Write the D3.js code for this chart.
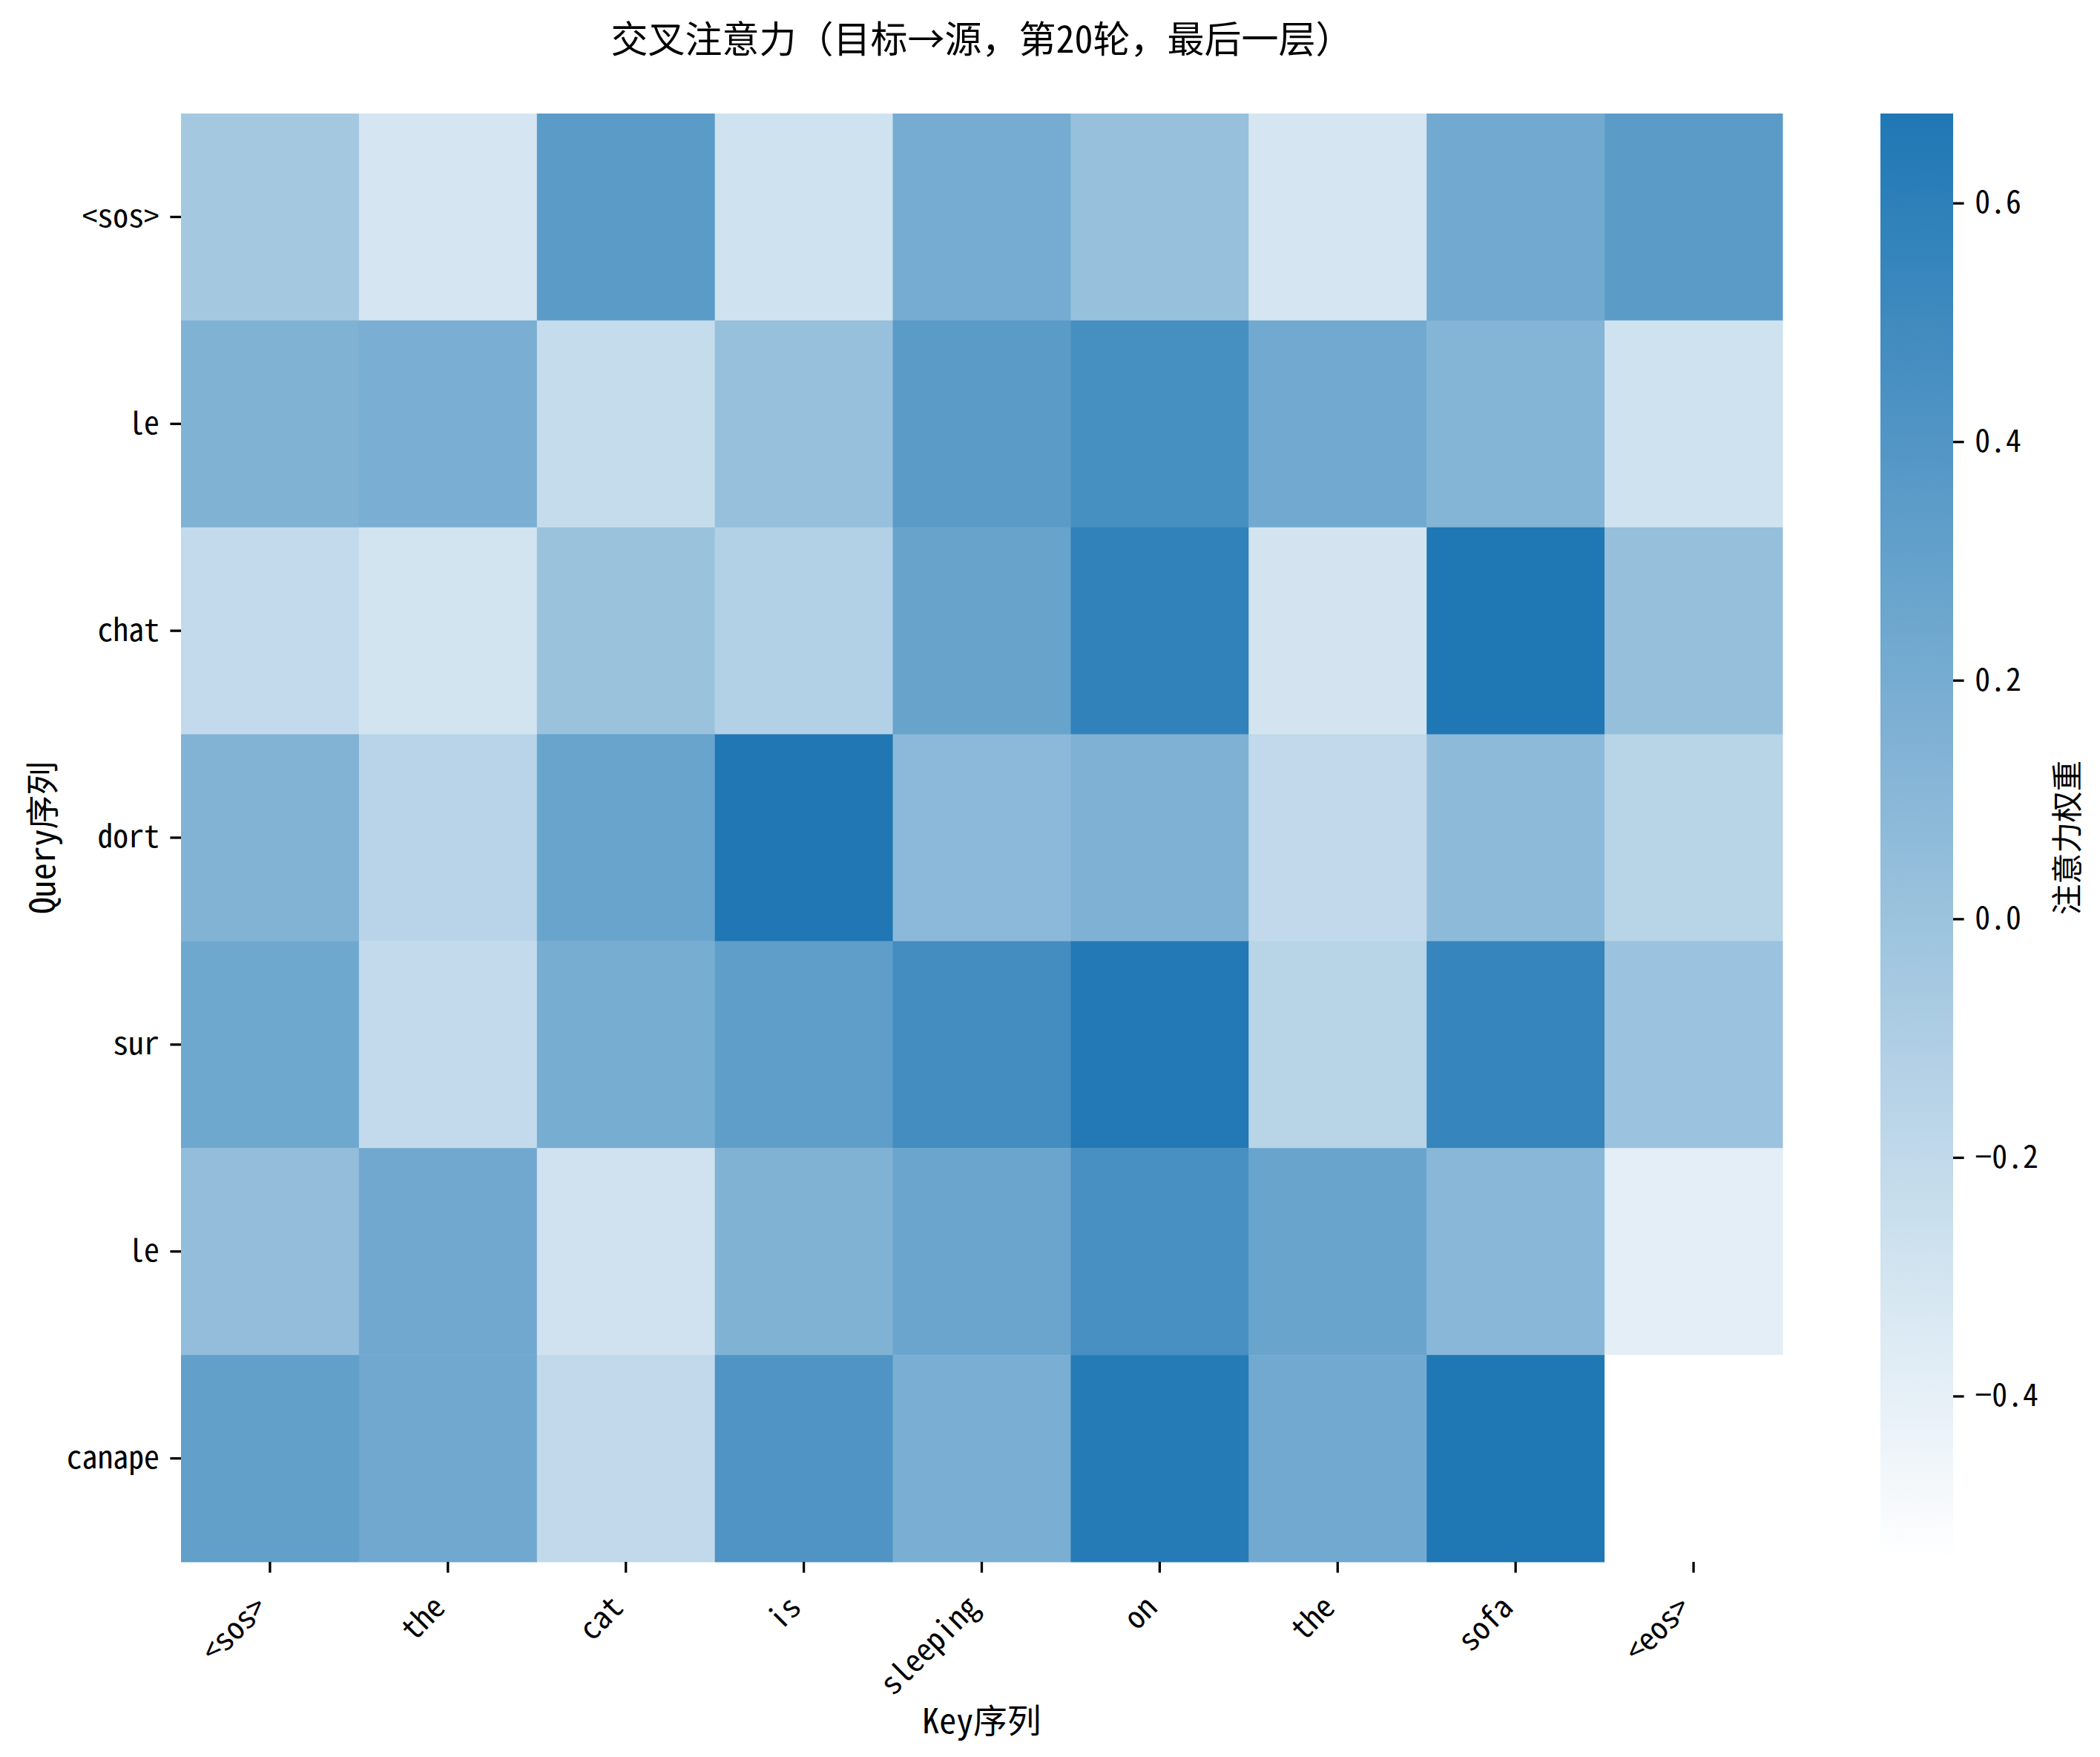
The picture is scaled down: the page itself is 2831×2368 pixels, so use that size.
<!DOCTYPE html>
<html><head><meta charset="utf-8">
<script src="https://cdn.jsdelivr.net/npm/d3@7"></script>
<style>body{margin:0;background:#fff}</style>
</head><body>
<svg id="c" width="2831" height="2368" xmlns="http://www.w3.org/2000/svg"></svg>
<script>
// ---- data ----
const queryTokens = ["<sos>", "le", "chat", "dort", "sur", "le", "canape"];
const keyTokens = ["<sos>", "the", "cat", "is", "sleeping", "on", "the", "sofa", "<eos>"];
const weights = [
  [-0.051, -0.311, 0.350, -0.279, 0.204, 0.025, -0.311, 0.225, 0.350],
  [0.150, 0.182, -0.224, 0.025, 0.350, 0.464, 0.225, 0.128, -0.279],
  [-0.208, -0.295, 0.009, -0.127, 0.280, 0.578, -0.301, 0.675, 0.036],
  [0.139, -0.159, 0.274, 0.672, 0.084, 0.155, -0.203, 0.079, -0.154],
  [0.242, -0.208, 0.193, 0.328, 0.475, 0.659, -0.154, 0.551, 0.003],
  [0.047, 0.236, -0.284, 0.150, 0.263, 0.453, 0.274, 0.106, -0.387],
  [0.312, 0.236, -0.203, 0.415, 0.182, 0.642, 0.225, 0.675, -0.539]
];
const colorTicks = [-0.4, -0.2, 0.0, 0.2, 0.4, 0.6];
const titleText = "交叉注意力（目标→源，第20轮，最后一层）";
const xLabel = "Key序列";
const yLabel = "Query序列";
const cbarLabel = "注意力权重";

// ---- layout ----
const FONT = "'Noto Sans Mono CJK SC','Noto Sans CJK SC','DejaVu Sans Mono',monospace";
const plot = {x0: 244, x1: 2403, y0: 153, y1: 2105};
const cbar = {x0: 2535, x1: 2633};
const tickLen = 14.6, tickW = 3.3, tickFs = 41.7, labelFs = 45.8, titleFs = 50;

const svg = d3.select("#c").style("font-family", FONT);
svg.append("rect").attr("width", 2831).attr("height", 2368).attr("fill", "#fff");

const flat = weights.flat();
const [vmin, vmax] = d3.extent(flat);
const color = d3.scaleSequential(d3.interpolateRgb("#ffffff", "#1f77b4")).domain([vmin, vmax]);

const x = d3.scaleBand().domain(d3.range(keyTokens.length)).range([plot.x0, plot.x1]);
const y = d3.scaleBand().domain(d3.range(queryTokens.length)).range([plot.y0, plot.y1]);

// cells
const cells = [];
weights.forEach((row, i) => row.forEach((v, j) => cells.push({i, j, v})));
svg.append("g").selectAll("rect").data(cells).join("rect")
  .attr("x", d => x(d.j)).attr("y", d => y(d.i))
  .attr("width", x.bandwidth() + 0.5).attr("height", y.bandwidth() + 0.5)
  .attr("fill", d => color(d.v));

// y axis
const gy = svg.append("g").attr("transform", `translate(${plot.x0},0)`)
  .call(d3.axisLeft(y).tickSize(tickLen).tickPadding(14.6).tickFormat(i => queryTokens[i]));
gy.select(".domain").remove();
gy.selectAll("line").attr("stroke", "#000").attr("stroke-width", tickW);
gy.selectAll("text").attr("font-size", tickFs).attr("fill", "#000").attr("font-family", FONT);

// x axis
const gx = svg.append("g").attr("transform", `translate(0,${plot.y1})`)
  .call(d3.axisBottom(x).tickSize(tickLen).tickFormat(i => keyTokens[i]));
gx.select(".domain").remove();
gx.selectAll("line").attr("stroke", "#000").attr("stroke-width", tickW);
gx.selectAll("text")
  .attr("font-size", tickFs).attr("fill", "#000").attr("font-family", FONT)
  .attr("text-anchor", "end")
  .attr("dominant-baseline", "central")
  .attr("dy", null)
  .attr("y", 0)
  .attr("transform", `translate(-14,${tickLen + 14.6 + 22}) rotate(-45)`);

// title
svg.append("text").attr("x", (plot.x0 + plot.x1) / 2).attr("y", 49)
  .attr("text-anchor", "middle").attr("dominant-baseline", "central")
  .attr("font-size", titleFs).attr("fill", "#000").text(titleText);

// axis labels
svg.append("text").attr("x", (plot.x0 + plot.x1) / 2).attr("y", 2316)
  .attr("text-anchor", "middle").attr("dominant-baseline", "central")
  .attr("font-size", labelFs).attr("fill", "#000").text(xLabel);
svg.append("text").attr("transform", `translate(54,${(plot.y0 + plot.y1) / 2}) rotate(-90)`)
  .attr("text-anchor", "middle").attr("dominant-baseline", "central")
  .attr("font-size", labelFs).attr("fill", "#000").text(yLabel);

// colorbar
const cs = d3.scaleLinear().domain([vmin, vmax]).range([plot.y1, plot.y0]);
const defs = svg.append("defs");
const grad = defs.append("linearGradient").attr("id", "cg")
  .attr("x1", 0).attr("y1", 1).attr("x2", 0).attr("y2", 0);
d3.range(0, 1.0001, 0.05).forEach(t => {
  grad.append("stop").attr("offset", t).attr("stop-color", color(vmin + t * (vmax - vmin)));
});
svg.append("rect").attr("x", cbar.x0).attr("y", plot.y0)
  .attr("width", cbar.x1 - cbar.x0).attr("height", plot.y1 - plot.y0)
  .attr("fill", "url(#cg)");
const gc = svg.append("g").attr("transform", `translate(${cbar.x1},0)`)
  .call(d3.axisRight(cs).tickValues(colorTicks).tickSize(tickLen).tickPadding(14.6).tickFormat(d3.format(".1f")));
gc.select(".domain").remove();
gc.selectAll("line").attr("stroke", "#000").attr("stroke-width", tickW);
gc.selectAll("text").attr("font-size", tickFs).attr("fill", "#000").attr("font-family", FONT);

svg.append("text").attr("transform", `translate(2784,${(plot.y0 + plot.y1) / 2}) rotate(-90)`)
  .attr("text-anchor", "middle").attr("dominant-baseline", "central")
  .attr("font-size", tickFs).attr("fill", "#000").text(cbarLabel);
</script>
</body></html>
